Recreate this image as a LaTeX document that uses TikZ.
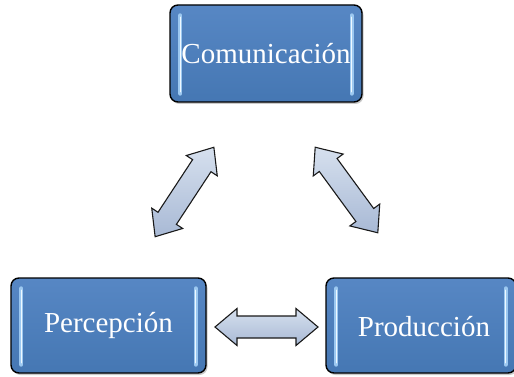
\documentclass[tikz,border=0pt]{standalone}
\usepackage{fontspec}
\setmainfont{Liberation Serif}
\usetikzlibrary{shadows}
\definecolor{boxtop}{HTML}{5787C4}
\definecolor{boxbot}{HTML}{4577B3}
\definecolor{arrtop}{HTML}{D6E0EE}
\definecolor{arrbot}{HTML}{A8B9D5}
\definecolor{glowa}{HTML}{9CC8F0}
\definecolor{glowb}{HTML}{EEF8FF}
\tikzset{
  box/.style={draw=black, line width=1.4pt, rounded corners=8pt,
    top color=boxtop, bottom color=boxbot, inner sep=0pt,
    drop shadow={shadow xshift=1.5pt, shadow yshift=-2pt, opacity=0.35, fill=black!60}},
  label/.style={text=white, font=\fontsize{29}{32}\selectfont, inner sep=0pt},
  glow/.style={line width=4pt, glowa, line cap=round},
  glowcore/.style={line width=1.4pt, glowb, line cap=round},
  dbl/.pic={
    \path[draw=black!90, line width=1.1pt, line join=miter, top color=arrtop, bottom color=arrbot]
      (-\arrlen/2,0) -- (-\arrlen/2+22,-18.5) -- (-\arrlen/2+22,-11) -- (\arrlen/2-22,-11)
      -- (\arrlen/2-22,-18.5) -- (\arrlen/2,0) -- (\arrlen/2-22,18.5) -- (\arrlen/2-22,11)
      -- (-\arrlen/2+22,11) -- (-\arrlen/2+22,18.5) -- cycle;
  }
}
\begin{document}
\begin{tikzpicture}[x=1pt,y=-1pt]
\useasboundingbox (0,0) rectangle (514,377);
\node[box, minimum width=192pt, minimum height=97pt] (C) at (266,53.5) {};
\node[box, minimum width=195pt, minimum height=95pt] (P) at (108.5,325.5) {};
\node[box, minimum width=190pt, minimum height=95pt] (R) at (421,325.5) {};
\foreach \n in {C,P,R}{
  \draw[glow] ([xshift=11pt,yshift=-11pt]\n.north west) -- ([xshift=11pt,yshift=9pt]\n.south west);
  \draw[glowcore] ([xshift=11pt,yshift=-13pt]\n.north west) -- ([xshift=11pt,yshift=11pt]\n.south west);
  \draw[glow] ([xshift=-11pt,yshift=-11pt]\n.north east) -- ([xshift=-11pt,yshift=9pt]\n.south east);
  \draw[glowcore] ([xshift=-11pt,yshift=-13pt]\n.north east) -- ([xshift=-11pt,yshift=11pt]\n.south east);
}
\node[label] (Ct) at (C.center) {Comunicación};
\node[label] (Pt) at (P.center) {Percepción};
\node[label] (Rt) at (424,327) {Producción};
\def\arrlen{107}
\pic[rotate=56.7] (a1) at (184.5,192) {dbl};
\def\arrlen{106}
\pic[rotate=-53.8] (a2) at (346.5,190) {dbl};
\def\arrlen{103}
\pic (a3) at (266.5,327) {dbl};
\end{tikzpicture}
\end{document}
